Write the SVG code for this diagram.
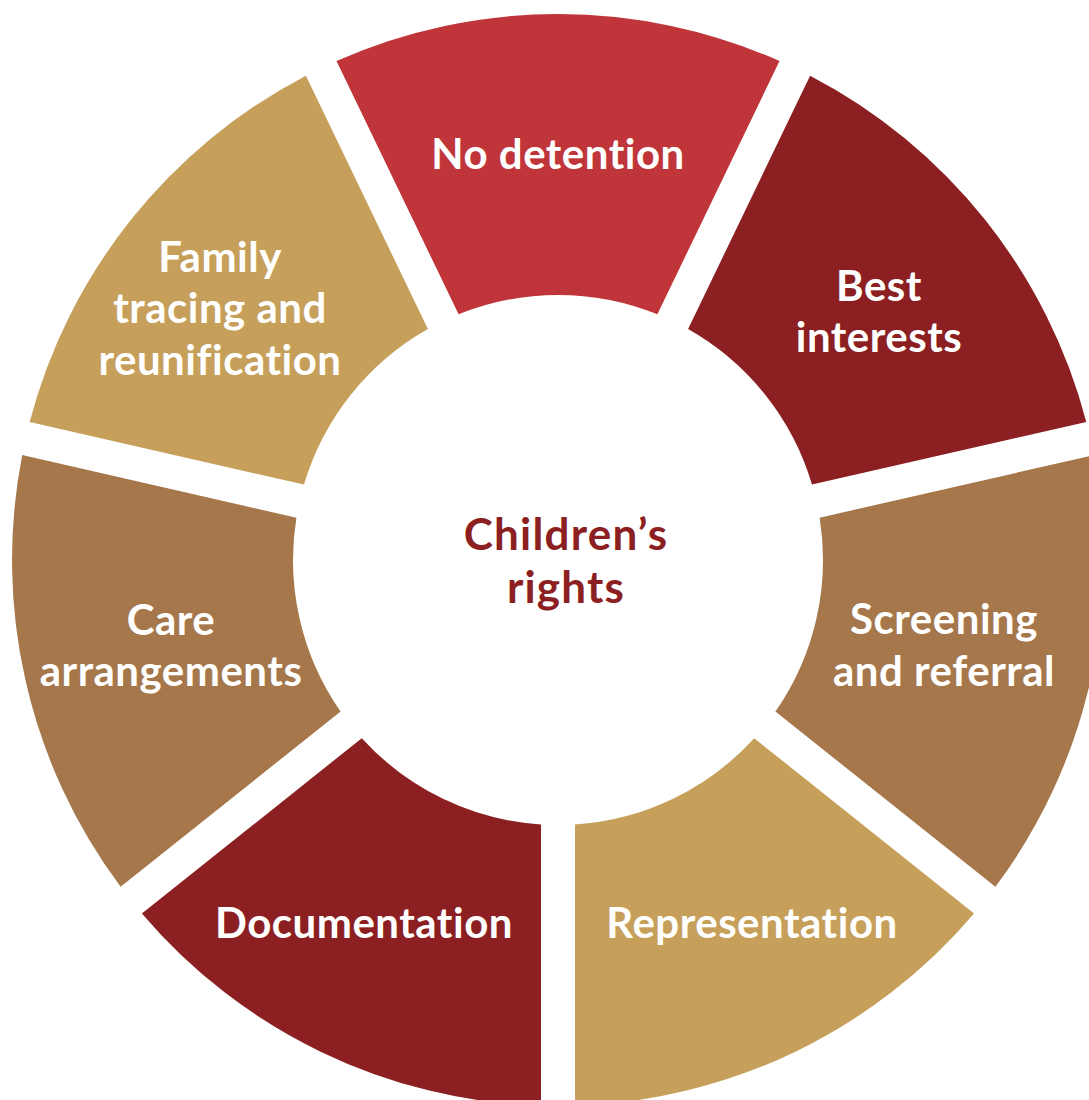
<svg xmlns="http://www.w3.org/2000/svg" width="1089" height="1100" viewBox="0 0 1089 1100">
<style>
text{font-family:Lato,"Open Sans","Liberation Sans",sans-serif;font-weight:bold;text-anchor:middle}
.lbl{fill:#ffffff;font-size:42px;letter-spacing:0.5px}
.ctr{fill:#8B1F21;font-size:44px;letter-spacing:1.2px}
.red{fill:#C0353A}
.dark{fill:#8B1F21}
.brown{fill:#A5774B}
.gold{fill:#C6A05B}
</style>
<rect width="1089" height="1100" fill="#ffffff"/>
<g id="no-detention">
<path class="red" d="M336.5,61.0 A546,546 0 0 1 779.5,61.0 L657.4,314.3 A265,265 0 0 0 458.6,314.3 Z"/>
<text class="lbl" x="558" y="169">No detention</text>
</g>
<g id="best-interests">
<path class="dark" d="M810.1,75.7 A546,546 0 0 1 1086.3,422.0 L812.0,484.6 A265,265 0 0 0 688.1,329.1 Z"/>
<text class="lbl" x="879" y="301">Best</text>
<text class="lbl" x="879" y="352">interests</text>
</g>
<g id="screening">
<path class="brown" d="M1093.8,455.1 A546,546 0 0 1 995.4,886.8 L775.4,711.5 A265,265 0 0 0 819.6,517.7 Z"/>
<text class="lbl" x="944" y="634">Screening</text>
<text class="lbl" x="944" y="686">and referral</text>
</g>
<g id="representation">
<path class="gold" d="M974.1,913.5 A546,546 0 0 1 575.0,1105.7 L575.0,824.5 A265,265 0 0 0 754.2,738.2 Z"/>
<text class="lbl" x="752" y="938">Representation</text>
</g>
<g id="documentation">
<path class="dark" d="M541.0,1105.7 A546,546 0 0 1 141.9,913.5 L361.8,738.2 A265,265 0 0 0 541.0,824.5 Z"/>
<text class="lbl" x="364" y="938">Documentation</text>
</g>
<g id="care-arrangements">
<path class="brown" d="M120.6,886.8 A546,546 0 0 1 22.2,455.1 L296.4,517.7 A265,265 0 0 0 340.6,711.5 Z"/>
<text class="lbl" x="171" y="635">Care</text>
<text class="lbl" x="171" y="686">arrangements</text>
</g>
<g id="family-tracing">
<path class="gold" d="M29.7,422.0 A546,546 0 0 1 305.9,75.7 L427.9,329.1 A265,265 0 0 0 304.0,484.6 Z"/>
<text class="lbl" x="220" y="272">Family</text>
<text class="lbl" x="220" y="323">tracing and</text>
<text class="lbl" x="220" y="375">reunification</text>
</g>
<g id="center">
<text class="ctr" x="566" y="550">Children’s</text>
<text class="ctr" x="566" y="603">rights</text>
</g>
<g id="connectors"></g>
</svg>
